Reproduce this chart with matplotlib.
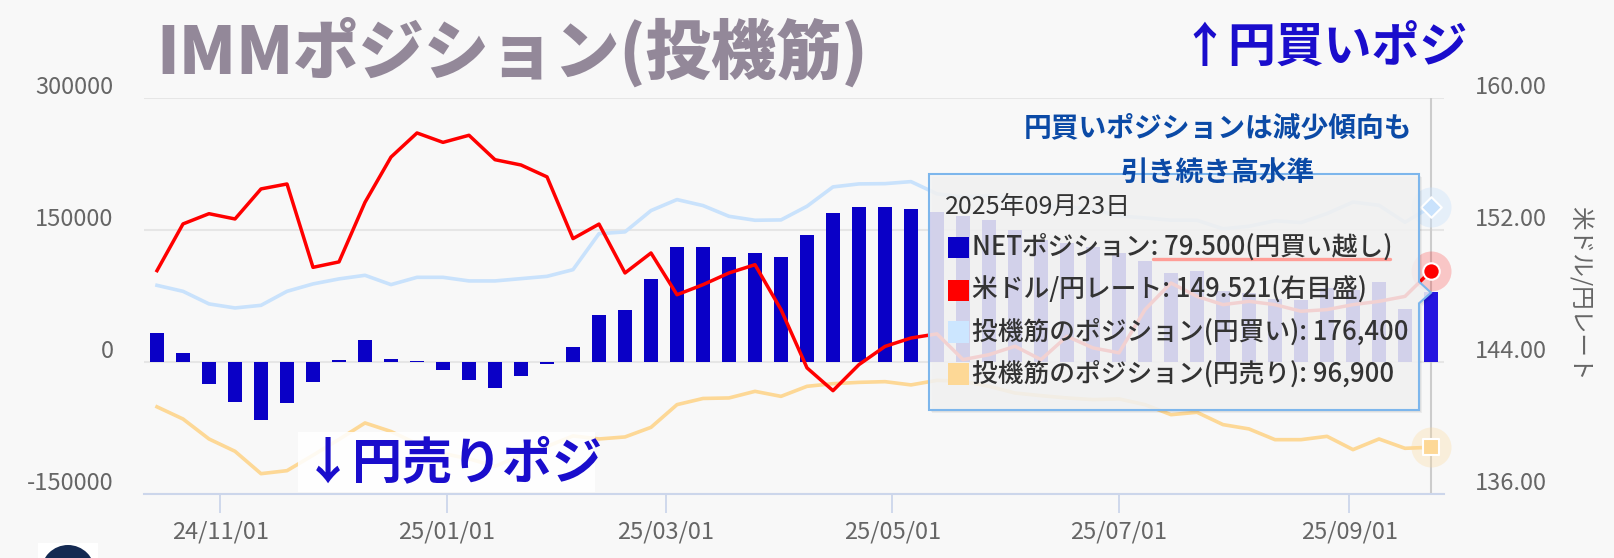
import matplotlib
matplotlib.use("Agg")
import matplotlib.pyplot as plt
import matplotlib.dates as mdates
import pandas as pd
from matplotlib.patches import Rectangle, Polygon, Ellipse
from matplotlib.lines import Line2D
from matplotlib.transforms import ScaledTranslation

plt.rcParams['font.family'] = ['Noto Sans CJK JP', 'DejaVu Sans']

# weekly IMM data, 2024/10/15 - 2025/09/23
dates = pd.date_range("2024-10-15", "2025-09-23", freq="7D")

net = [33000, 10000, -25000, -46000, -66000, -47000, -22500, 2000, 24500, 3500,
       1500, -9500, -20500, -30000, -16300, -2500, 17500, 53700, 58700, 94600,
       131000, 131000, 119600, 124200, 119600, 144600, 169600, 176400, 176400, 174100,
       170000, 165500, 161000, 149600, 138900, 135200, 130600, 123800, 115100, 101100,
       103700, 80000, 78000, 72000, 70000, 84000, 82000, 90400, 60500, 79500]

yen_long = [87000, 80200, 65900, 61300, 64300, 80200, 88600, 94300, 98400, 87800,
            96100, 96100, 92000, 92000, 94600, 97200, 104800, 145700, 147700, 171900,
            184400, 177600, 165400, 160900, 161300, 176800, 198800, 202200, 202500, 204800,
            190900, 187500, 188700, 184900, 177200, 176100, 173400, 165800, 163600, 161000,
            160900, 151200, 154100, 160300, 158300, 168500, 181600, 177900, 158600, 176400]

yen_short = [51000, 64800, 87500, 101500, 126900, 123500, 106000, 88000, 69300, 79000,
             93000, 104000, 110000, 118600, 106000, 96000, 84000, 87500, 85200, 74300,
             48500, 41500, 40900, 33400, 39100, 27700, 24700, 23200, 22400, 26100,
             20900, 22000, 27700, 35300, 38300, 40900, 42800, 42000, 48500, 59900,
             57200, 71200, 76100, 88300, 88300, 84500, 99600, 87500, 98100, 96900]

usdjpy = [149.53, 152.36, 152.98, 152.66, 154.48, 154.78, 149.73, 150.06, 153.67, 156.41,
          157.87, 157.30, 157.73, 156.25, 155.93, 155.21, 151.47, 152.35, 149.39, 150.60,
          148.07, 148.68, 149.39, 149.89, 147.17, 143.64, 142.26, 143.84, 144.94, 145.45,
          145.70, 144.14, 144.44, 144.95, 144.14, 145.55, 144.85, 144.55, 147.17, 148.78,
          147.97, 147.47, 147.67, 147.47, 147.07, 147.17, 147.47, 147.67, 147.97, 149.521]

xticks = pd.to_datetime(["2024-11-01", "2025-01-01", "2025-03-01",
                         "2025-05-01", "2025-07-01", "2025-09-01"])
left_ticks = [-150000, 0, 150000, 300000]
right_ticks = [136, 144, 152, 160]

W, H = 1614, 558
BG = "#f8f8f8"
NAVY = "#0a00c6"
RED = "#ff0000"
LBLUE = "#c9e2fc"
ORANGE = "#fdd896"


def fx(x):
    return x / W


def fy(y):
    return 1 - y / H


fig = plt.figure(figsize=(W / 100, H / 100), dpi=100, facecolor=BG)
ax = fig.add_axes([fx(144), fy(494), (1444 - 144) / W, (494 - 97.8) / H])
ax.set_facecolor(BG)
ax2 = ax.twinx()

# crosshair on hovered point
ax.axvline(dates[-1], color="#cccccc", lw=1.5, zorder=1)

bar_colors = [NAVY] * (len(net) - 1) + ["#2515e0"]
ax.bar(dates, net, width=3.8, color=bar_colors, zorder=2)
ax.plot(dates, yen_long, color=LBLUE, lw=2.6, zorder=3, solid_joinstyle="round")
ax.plot(dates, [-v for v in yen_short], color=ORANGE, lw=2.6, zorder=3,
        solid_joinstyle="round")
ax2.plot(dates, usdjpy, color=RED, lw=2.5, zorder=3, solid_joinstyle="round")

# hover markers
ax.scatter([dates[-1]], [yen_long[-1]], s=830, color=LBLUE, alpha=0.4, lw=0, zorder=4, clip_on=False)
ax.scatter([dates[-1]], [yen_long[-1]], s=110, marker="D", color=LBLUE, edgecolor="white",
           lw=1.5, zorder=5, clip_on=False)
ax.scatter([dates[-1]], [-yen_short[-1]], s=830, color=ORANGE, alpha=0.3, lw=0, zorder=4, clip_on=False)
ax.scatter([dates[-1]], [-yen_short[-1]], s=140, marker="s", color=ORANGE, edgecolor="white",
           lw=1.5, zorder=5, clip_on=False)
ax2.scatter([dates[-1]], [usdjpy[-1]], s=830, color=RED, alpha=0.2, lw=0, zorder=4, clip_on=False)
ax2.scatter([dates[-1]], [usdjpy[-1]], s=140, marker="o", color=RED, edgecolor="white",
            lw=1.5, zorder=5, clip_on=False)

ax.set_xlim(dates[0] - pd.Timedelta(days=3.5), dates[-1] + pd.Timedelta(days=3.5))
ax.set_ylim(-150000, 300000)
ax2.set_ylim(136, 160)

ax.set_yticks(left_ticks)
ax.set_yticklabels([str(v) for v in left_ticks])
ax2.set_yticks(right_ticks)
ax2.set_yticklabels([f"{v:.2f}" for v in right_ticks])
ax.set_xticks(xticks)
ax.xaxis.set_major_formatter(mdates.DateFormatter("%y/%m/%d"))

ax.set_axisbelow(True)
ax.yaxis.grid(True, color="#e6e6e6", lw=1.5)
for s in ["top", "left", "right"]:
    ax.spines[s].set_visible(False)
ax.spines["bottom"].set_color("#ccd6eb")
ax.spines["bottom"].set_linewidth(1.5)
for s in ax2.spines.values():
    s.set_visible(False)

ax.tick_params(axis="y", length=0, pad=22, labelsize=17, labelcolor="#666666")
ax2.tick_params(axis="y", length=0, pad=22, labelsize=17, labelcolor="#666666")
ax.tick_params(axis="x", length=14, width=1.3, color="#ccd6eb", pad=5,
               labelsize=17, labelcolor="#666666")

off = ScaledTranslation(0, 0.125, fig.dpi_scale_trans)
for lab in ax.get_yticklabels() + ax2.get_yticklabels():
    lab.set_transform(lab.get_transform() + off)

fig.text(fx(1580), fy(293), "米ドル/円レート", rotation=-90, fontsize=17, color="#666666",
         ha="center", va="center")

# titles / annotations
fig.text(fx(156), fy(52), "IMMポジション(投機筋)", fontsize=47, fontweight="black",
         color="#938899", ha="left", va="center")
fig.text(fx(1180), fy(48), "↑円買いポジ", fontsize=34.5, fontweight="bold",
         color="#1a0dcc", ha="left", va="center")
fig.add_artist(Rectangle((fx(298), fy(492)), (595 - 298) / W, (492 - 432) / H,
                         transform=fig.transFigure, facecolor="white", alpha=0.88,
                         edgecolor="none", zorder=4))
fig.text(fx(303), fy(464), "↓円売りポジ", fontsize=36, fontweight="bold",
         color="#1a0dcc", ha="left", va="center", zorder=5)

# tooltip
outline = [(929, 174), (1419, 174), (1419, 281.7), (1431, 292.7), (1419, 303.3),
           (1419, 410), (929, 410)]
for k in (3, 2, 1):
    fig.add_artist(Polygon([(fx(x + k), fy(y + k)) for x, y in outline], closed=True,
                           transform=fig.transFigure, facecolor=(0, 0, 0, 0.05),
                           edgecolor="none", zorder=5))
fig.add_artist(Polygon([(fx(x), fy(y)) for x, y in outline], closed=True,
                       transform=fig.transFigure, facecolor=(0.97, 0.97, 0.97, 0.85),
                       edgecolor="#7db6ec", lw=1.5, zorder=6))
fig.text(fx(945), fy(206.7), dates[-1].strftime("%Y年%m月%d日"), fontsize=18,
         color="#333333", ha="left", va="center", zorder=7)
rows = [
    (NAVY, f"NETポジション: {net[-1] / 1000:.3f}(円買い越し)", 247.5),
    (RED, f"米ドル/円レート: {usdjpy[-1]:.3f}(右目盛)", 290.3),
    ("#cce6ff", f"投機筋のポジション(円買い): {yen_long[-1]:,}", 332.2),
    (ORANGE, f"投機筋のポジション(円売り): {yen_short[-1]:,}", 373.8),
]
for col, txt, yy in rows:
    fig.add_artist(Rectangle((fx(947.7), fy(yy + 10.8)), 21.3 / W, 21.6 / H,
                             transform=fig.transFigure, facecolor=col, edgecolor="none", zorder=7))
    fig.text(fx(972), fy(yy), txt, fontsize=18.5, fontweight="medium", color="#333333",
             ha="left", va="center", zorder=7)
fig.add_artist(Line2D([fx(1153), fx(1390)], [fy(259.3), fy(259.3)], transform=fig.transFigure,
                      color="#ff9d96", lw=2.4, solid_capstyle="round", zorder=7))

fig.text(fx(1218), fy(128), "円買いポジションは減少傾向も", fontsize=20, fontweight="bold",
         color="#0b4aa6", ha="center", va="center", zorder=8)
fig.text(fx(1218), fy(173), "引き続き高水準", fontsize=20, fontweight="bold",
         color="#0b4aa6", ha="center", va="center", zorder=8)

# logo peeking in at the bottom
fig.add_artist(Rectangle((fx(38), 0), 60 / W, 15 / H, transform=fig.transFigure,
                         facecolor="white", edgecolor="none", zorder=1))
fig.add_artist(Ellipse((fx(68), fy(572)), 54 / W, 54 / H, transform=fig.transFigure,
                       facecolor="#142a52", edgecolor="none", zorder=2))

fig.savefig("out.png", dpi=100, facecolor=BG)
